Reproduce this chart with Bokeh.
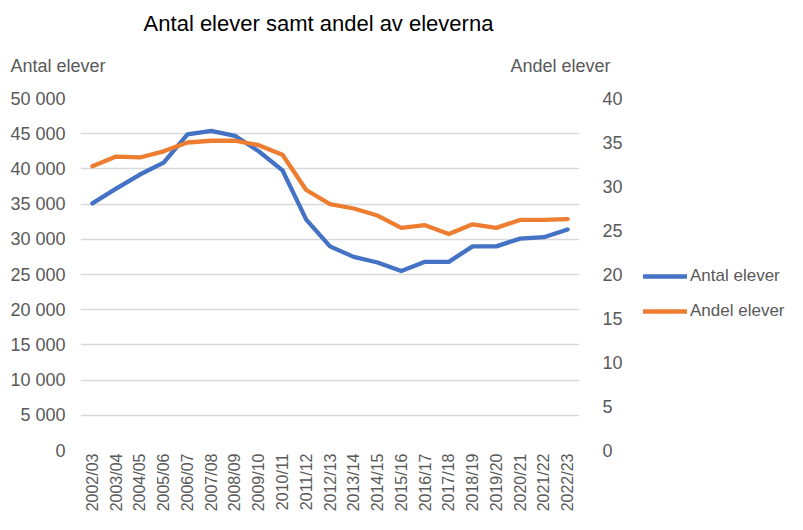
from bokeh.plotting import figure
from bokeh.layouts import column, row
from bokeh.models import (FactorRange, Range1d, LinearAxis, FixedTicker, Label,
                          Legend, LegendItem)
from bokeh.embed import file_html
from bokeh.resources import INLINE

years = ["2002/03", "2003/04", "2004/05", "2005/06", "2006/07", "2007/08", "2008/09",
         "2009/10", "2010/11", "2011/12", "2012/13", "2013/14", "2014/15", "2015/16",
         "2016/17", "2017/18", "2018/19", "2019/20", "2020/21", "2021/22", "2022/23"]
antal_elever = [35100, 37200, 39200, 40900, 44900, 45400, 44700, 42500, 39800, 32800,
                29000, 27500, 26700, 25500, 26800, 26800, 29000, 29000, 30100, 30300, 31400]
andel_elever = [32.3, 33.4, 33.3, 34.0, 35.0, 35.2, 35.2, 34.7, 33.6, 29.6,
                28.0, 27.5, 26.7, 25.3, 25.6, 24.6, 25.7, 25.3, 26.2, 26.2, 26.3]
left_ticks = [0, 5000, 10000, 15000, 20000, 25000, 30000, 35000, 40000, 45000, 50000]
left_tick_labels = ["0", "5 000", "10 000", "15 000", "20 000", "25 000", "30 000",
                    "35 000", "40 000", "45 000", "50 000"]
right_ticks = [0, 5, 10, 15, 20, 25, 30, 35, 40]

title_text = "Antal elever samt andel av eleverna"
left_title = "Antal elever"
right_title = "Andel elever"
series_names = ["Antal elever", "Andel elever"]

BLUE = "#4472C4"
ORANGE = "#ED7D31"
GRID = "#D9D9D9"
TXT = "#595959"
FONT = "Liberation Sans"

TOTAL_W = 787
TOP_H = 88
MAIN_W = 625
MAIN_H = 426


def bare(fig):
    fig.outline_line_color = None
    fig.grid.visible = False
    fig.axis.visible = False
    return fig


# ---- header figure (title and axis titles) ----
top = bare(figure(width=TOTAL_W, height=TOP_H, x_range=Range1d(0, TOTAL_W),
                  y_range=Range1d(0, TOP_H), output_backend="svg", toolbar_location=None,
                  min_border=0))
top.add_layout(Label(x=318, y=TOP_H - 23, text=title_text, text_align="center",
                     text_baseline="middle", text_font=FONT,
                     text_font_size="22px", text_color="#000000"))
top.add_layout(Label(x=10, y=TOP_H - 65, text=left_title, text_align="left",
                     text_baseline="middle", text_font=FONT, text_font_size="18px",
                     text_color=TXT))
top.add_layout(Label(x=510, y=TOP_H - 65, text=right_title, text_align="left",
                     text_baseline="middle", text_font=FONT, text_font_size="18px",
                     text_color=TXT))

# ---- main chart ----
p = figure(width=MAIN_W, height=MAIN_H, x_range=FactorRange(*years), y_range=Range1d(0, 50000),
           output_backend="svg", toolbar_location=None,
           min_border_left=80, min_border_right=45, min_border_top=10, min_border_bottom=63)
p.outline_line_color = None
p.extra_y_ranges = {"right": Range1d(0, 40)}

ya = p.yaxis[0]
ya.ticker = FixedTicker(ticks=left_ticks)
ya.major_label_overrides = {t: l for t, l in zip(left_ticks, left_tick_labels)}
ya.axis_line_color = None
ya.major_tick_line_color = None
ya.minor_tick_line_color = None
ya.major_tick_out = 0
ya.major_tick_in = 0
ya.major_label_standoff = 15
ya.major_label_text_font = FONT
ya.major_label_text_font_size = "18px"
ya.major_label_text_color = TXT

ra = LinearAxis(y_range_name="right", ticker=FixedTicker(ticks=right_ticks))
ra.axis_line_color = None
ra.major_tick_line_color = None
ra.minor_tick_line_color = None
ra.major_tick_out = 0
ra.major_tick_in = 0
ra.major_label_standoff = 23
ra.major_label_text_font = FONT
ra.major_label_text_font_size = "18px"
ra.major_label_text_color = TXT
p.add_layout(ra, "right")

xa = p.xaxis[0]
xa.axis_line_color = None
xa.major_tick_line_color = None
xa.major_tick_out = 0
xa.major_tick_in = 0
xa.major_label_orientation = 1.5707963
xa.major_label_standoff = 3
xa.major_label_text_font = FONT
xa.major_label_text_font_size = "16px"
xa.major_label_text_color = TXT

p.xgrid.grid_line_color = None
p.ygrid.grid_line_color = GRID
p.ygrid.grid_line_width = 1.3
p.ygrid.ticker = FixedTicker(ticks=left_ticks)

p.line(years, antal_elever, line_color=BLUE, line_width=4.3, line_join="round", line_cap="round")
p.line(years, andel_elever, y_range_name="right", line_color=ORANGE, line_width=4.3,
       line_join="round", line_cap="round")

# ---- legend figure (its frame is aligned with the chart frame) ----
leg_w = TOTAL_W - MAIN_W
lg = bare(figure(width=leg_w, height=MAIN_H, x_range=Range1d(0, 1), y_range=Range1d(0, 1),
                 output_backend="svg", toolbar_location=None, min_border=0))
idx = list(range(len(years)))
# key renderers: same series, lying outside this panel's ranges, used only for the legend keys
k1 = lg.line(idx, antal_elever, line_color=BLUE, line_width=4.3, line_cap="round")
k2 = lg.line(idx, andel_elever, line_color=ORANGE, line_width=4.3, line_cap="round")
legend = Legend(items=[LegendItem(label=series_names[0], renderers=[k1]),
                       LegendItem(label=series_names[1], renderers=[k2])],
                location=(18, 129), glyph_width=44, glyph_height=20, label_height=20,
                label_standoff=3, spacing=15, padding=0, margin=0,
                border_line_color=None, background_fill_alpha=0,
                label_text_font=FONT, label_text_font_size="17px", label_text_color=TXT)
lg.add_layout(legend, "center")

layout = column(top, row(p, lg, spacing=0), spacing=0)
open("out.html", "w").write(file_html(layout, INLINE))
